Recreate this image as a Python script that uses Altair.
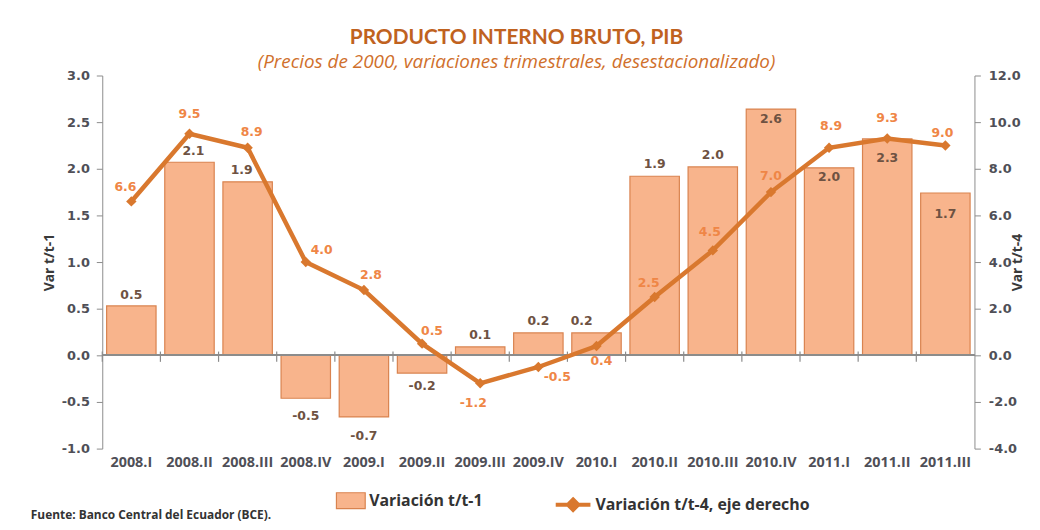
import altair as alt
import pandas as pd

# ---- data ----
quarters = ["2008.I", "2008.II", "2008.III", "2008.IV", "2009.I", "2009.II", "2009.III",
            "2009.IV", "2010.I", "2010.II", "2010.III", "2010.IV", "2011.I", "2011.II", "2011.III"]
var_t1 = [0.53, 2.07, 1.86, -0.46, -0.66, -0.19, 0.09, 0.24, 0.24, 1.92, 2.02, 2.64, 2.01, 2.32, 1.74]
var_t4 = [6.6, 9.5, 8.9, 4.0, 2.8, 0.5, -1.2, -0.5, 0.4, 2.5, 4.5, 7.0, 8.9, 9.3, 9.0]

# ---- label placement (style, pixels) ----
bar_lab_dx = [0, 4, -6, 0, 0, 0, 0, 0, -15, 0, 0, 0, 0, 0, 0]
bar_lab_dy = [-11, -11, -12, 18, 19, 13, -12, -12, -12, -12, -12, 10, 9, 19, 21]
line_lab_dx = [-6, 0, 4, 16, 7, 10, -7, 19, 5, -6, -3, 0, 2, 0, -3]
line_lab_dy = [-14, -20, -16, -12, -15, -13, 20, 10, 15, -14, -18, -16, -22, -21, -13]

BAR_NAME = "Variación t/t-1"
LINE_NAME = "Variación t/t-4, eje derecho"

df = pd.DataFrame({
    "q": quarters, "bar": var_t1, "line": var_t4,
    "blab": [f"{v:.1f}" for v in var_t1], "llab": [f"{v:.1f}" for v in var_t4],
    "bdx": bar_lab_dx, "bdy": bar_lab_dy, "ldx": line_lab_dx, "ldy": line_lab_dy,
    "sb": [BAR_NAME] * len(quarters), "sl": [LINE_NAME] * len(quarters),
})

BAR_FILL = "#f8b48c"
BAR_STROKE = "#d9834f"
LINE_COL = "#d9782e"
LINE_LAB = "#ef8646"
BAR_LAB = "#6e5242"
AX_LAB = "#4f4f57"
AX_COL = "#8c8c8c"
NUMFONT = "DejaVu Sans"
TXTFONT = "Open Sans"
LBL_EXPR = "datum.value < 0 ? '-' + format(-datum.value, '.1f') : format(datum.value, '.1f')"

xs = alt.Scale(domain=quarters, paddingInner=0, paddingOuter=0)
ysl = alt.Scale(domain=[-1, 3], nice=False, zero=False)
ysr = alt.Scale(domain=[-4, 12], nice=False, zero=False)

x_axis = alt.Axis(domain=False, ticks=False, labelAngle=0, labelFont=TXTFONT,
                  labelFontSize=14.5, labelFontWeight="bold", labelColor=AX_LAB,
                  labelPadding=7, labelOverlap=False, title=None)
yl_axis = alt.Axis(values=[-1, -0.5, 0, 0.5, 1, 1.5, 2, 2.5, 3], labelExpr=LBL_EXPR, grid=False,
                   domainColor=AX_COL, tickColor=AX_COL, tickSize=6,
                   labelFont=NUMFONT, labelFontSize=13, labelFontWeight="bold",
                   labelColor=AX_LAB, labelPadding=7, title="Var t/t-1",
                   titleFont=TXTFONT, titleFontSize=14, titleFontWeight="bold",
                   titleColor="#3a3a3a", titlePadding=5)
yr_axis = alt.Axis(orient="right", values=[-4, -2, 0, 2, 4, 6, 8, 10, 12], labelExpr=LBL_EXPR,
                   grid=False, domainColor=AX_COL, tickColor=AX_COL, tickSize=6,
                   labelFont=NUMFONT, labelFontSize=13, labelFontWeight="bold",
                   labelColor=AX_LAB, labelPadding=8, title="Var t/t-4",
                   titleFont=TXTFONT, titleFontSize=14, titleFontWeight="bold",
                   titleColor="#3a3a3a", titlePadding=4, titleAngle=270)

base = alt.Chart(df)
X = alt.X("q:N", sort=quarters, scale=xs, axis=x_axis, title=None)

bars = base.mark_bar(width={"band": 0.85}, stroke=BAR_STROKE, strokeWidth=1.2).encode(
    x=X,
    y=alt.Y("bar:Q", scale=ysl, axis=yl_axis, title="Var t/t-1"),
    fill=alt.Fill("sb:N", scale=alt.Scale(domain=[BAR_NAME], range=[BAR_FILL]),
                  legend=alt.Legend(title=None, orient="none", legendX=235, legendY=413,
                                    symbolType="M-1,-0.55H1V0.55H-1Z", symbolSize=841,
                                    symbolStrokeColor=BAR_STROKE, symbolStrokeWidth=1.2,
                                    labelFont=TXTFONT, labelFontSize=16, labelColor="#333333",
                                    labelFontWeight="bold", labelLimit=0, labelOffset=3)),
)

bar_text = base.mark_text(font=NUMFONT, fontSize=12.5, fontWeight="bold", color=BAR_LAB,
                          dx=alt.expr("datum.bdx"), dy=alt.expr("datum.bdy")).encode(
    x=X,
    y=alt.Y("bar:Q", scale=ysl, axis=yl_axis, title="Var t/t-1"),
    text="blab:N",
)

zero = base.mark_rule(color=AX_COL, strokeWidth=1.2).encode(
    y=alt.Y(datum=0, scale=ysl, axis=yl_axis, title="Var t/t-1"))

cat_ticks = base.mark_rule(color=AX_COL, strokeWidth=1.2).encode(
    x=alt.X("q:N", sort=quarters, scale=xs, axis=x_axis, title=None, bandPosition=0),
    y=alt.Y(datum=0.04, scale=ysl, axis=yl_axis, title="Var t/t-1"),
    y2=alt.Y2(datum=-0.07),
)

source = alt.Chart(pd.DataFrame({"t": ["Fuente: Banco Central del Ecuador (BCE)."]})).mark_text(
    align="left", baseline="middle", font=TXTFONT, fontSize=12, fontWeight="bold", color="#333333"
).encode(x=alt.value(-72), y=alt.value(443), text="t:N")

left = alt.layer(bars, zero, cat_ticks, bar_text, source)

line = base.mark_line(strokeWidth=4.5).encode(
    x=X,
    y=alt.Y("line:Q", scale=ysr, axis=yr_axis, title="Var t/t-4"),
    stroke=alt.Stroke("sl:N", scale=alt.Scale(domain=[LINE_NAME], range=[LINE_COL]),
                      legend=alt.Legend(title=None, orient="none", legendX=455, legendY=413,
                                        symbolType="M-1,0L1,0M0,-0.3L0.3,0L0,0.3L-0.3,0Z",
                                        symbolSize=1225, symbolStrokeWidth=4,
                                        symbolFillColor=LINE_COL,
                                        labelFont=TXTFONT, labelFontSize=16, labelColor="#333333",
                                        labelFontWeight="bold", labelLimit=0, labelOffset=3)),
)

points = base.mark_point(shape="diamond", filled=True, size=110, color=LINE_COL, opacity=1).encode(
    x=X, y=alt.Y("line:Q", scale=ysr, axis=yr_axis, title="Var t/t-4"))

line_text = base.mark_text(font=NUMFONT, fontSize=12.5, fontWeight="bold", color=LINE_LAB,
                           dx=alt.expr("datum.ldx"), dy=alt.expr("datum.ldy")).encode(
    x=X,
    y=alt.Y("line:Q", scale=ysr, axis=yr_axis, title="Var t/t-4"),
    text="llab:N",
)

right = alt.layer(line, points, line_text)

chart = alt.layer(left, right).resolve_scale(y="independent").properties(
    width=879, height=376,
    autosize=alt.AutoSizeParams(type="none"),
    padding={"left": 95, "top": 66, "right": 58, "bottom": 78},
    background="white",
    title=alt.TitleParams(
        text="PRODUCTO INTERNO BRUTO, PIB",
        subtitle="(Precios de 2000, variaciones trimestrales, desestacionalizado)",
        anchor="middle", dx=-22, offset=-2,
        font="Lato", fontSize=21, fontWeight="bold", color="#c0621f",
        subtitleFont=TXTFONT, subtitleFontSize=19, subtitleFontStyle="italic",
        subtitleColor="#d0702c", subtitlePadding=5,
    ),
).configure_view(stroke=None)

chart.save("out.html", embed_options={"renderer": "svg", "actions": False})
